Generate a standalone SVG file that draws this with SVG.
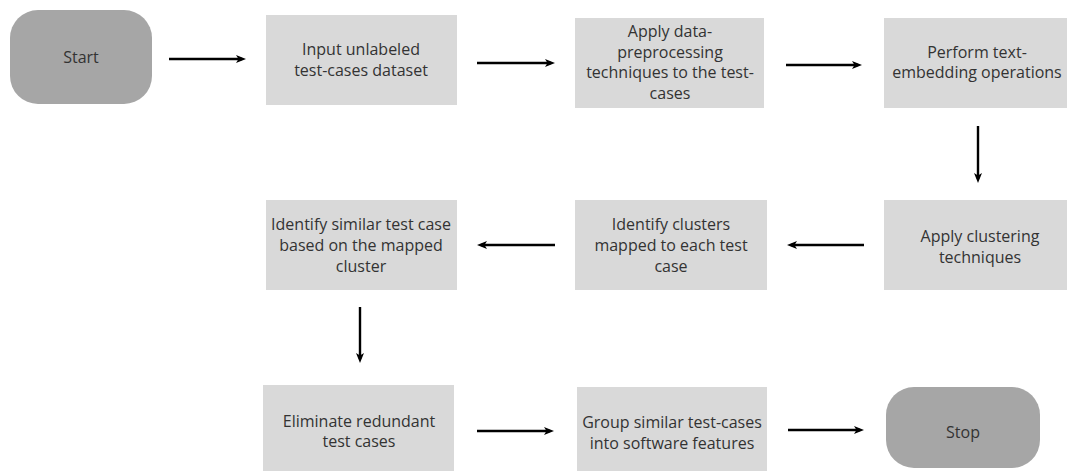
<svg xmlns="http://www.w3.org/2000/svg" width="1067" height="471" viewBox="0 0 1067 471">
  <style>
    .box { fill: #d9d9d9; }
    .term { fill: #a6a6a6; }
    .lbl { font-family: "Open Sans", "Noto Sans", "Liberation Sans", sans-serif; font-size: 16px; fill: #333333; text-anchor: middle; }
    .conn { stroke: #000000; stroke-width: 2.4; fill: none; marker-end: url(#arrow); }
  </style>
  <defs>
    <marker id="arrow" viewBox="0 0 10 10" refX="6" refY="5" markerWidth="10" markerHeight="10" markerUnits="userSpaceOnUse" orient="auto">
      <path d="M0,1 L10,5 L0,9 L2.5,5 z" fill="#000000"/>
    </marker>
  </defs>
  <rect width="1067" height="471" fill="#ffffff"/>

  <g id="start">
    <rect class="term" x="10" y="10" width="142" height="94" rx="28" ry="28"/>
    <text class="lbl" x="81" y="63">Start</text>
  </g>
  <g id="input">
    <rect class="box" x="266" y="15" width="191" height="90"/>
    <text class="lbl" x="361" y="55">Input unlabeled</text>
    <text class="lbl" x="361" y="76">test-cases dataset</text>
  </g>
  <g id="preprocess">
    <rect class="box" x="575" y="18" width="189" height="90"/>
    <text class="lbl" x="670" y="37">Apply data-</text>
    <text class="lbl" x="670" y="58">preprocessing</text>
    <text class="lbl" x="670" y="78">techniques to the test-</text>
    <text class="lbl" x="670" y="99">cases</text>
  </g>
  <g id="embedding">
    <rect class="box" x="884" y="18" width="192" height="90"/>
    <text class="lbl" x="977" y="58">Perform text-</text>
    <text class="lbl" x="977" y="78">embedding operations</text>
  </g>
  <g id="clustering">
    <rect class="box" x="884" y="200" width="192" height="90"/>
    <text class="lbl" x="980" y="242">Apply clustering</text>
    <text class="lbl" x="980" y="263">techniques</text>
  </g>
  <g id="identify-clusters">
    <rect class="box" x="575" y="200" width="192" height="90"/>
    <text class="lbl" x="671" y="230">Identify clusters</text>
    <text class="lbl" x="671" y="251">mapped to each test</text>
    <text class="lbl" x="671" y="272">case</text>
  </g>
  <g id="identify-similar">
    <rect class="box" x="266" y="200" width="191" height="90"/>
    <text class="lbl" x="361" y="230">Identify similar test case</text>
    <text class="lbl" x="361" y="251">based on the mapped</text>
    <text class="lbl" x="361" y="272">cluster</text>
  </g>
  <g id="eliminate">
    <rect class="box" x="263" y="385" width="191" height="92"/>
    <text class="lbl" x="359" y="427">Eliminate redundant</text>
    <text class="lbl" x="359" y="447">test cases</text>
  </g>
  <g id="group">
    <rect class="box" x="577" y="387" width="190" height="90"/>
    <text class="lbl" x="672" y="428">Group similar test-cases</text>
    <text class="lbl" x="672" y="449">into software features</text>
  </g>
  <g id="stop">
    <rect class="term" x="886" y="387" width="154" height="81" rx="28" ry="28"/>
    <text class="lbl" x="963" y="438">Stop</text>
  </g>

  <g id="connectors">
    <line class="conn" x1="169" y1="59" x2="242" y2="59"/>
    <line class="conn" x1="477" y1="63" x2="551" y2="63"/>
    <line class="conn" x1="786" y1="65" x2="858" y2="65"/>
    <line class="conn" x1="978" y1="126" x2="978" y2="179"/>
    <line class="conn" x1="864" y1="245" x2="791" y2="245"/>
    <line class="conn" x1="555" y1="245" x2="481" y2="245"/>
    <line class="conn" x1="360" y1="307" x2="360" y2="359"/>
    <line class="conn" x1="477" y1="431" x2="550" y2="431"/>
    <line class="conn" x1="788" y1="430" x2="860" y2="430"/>
  </g>
</svg>
